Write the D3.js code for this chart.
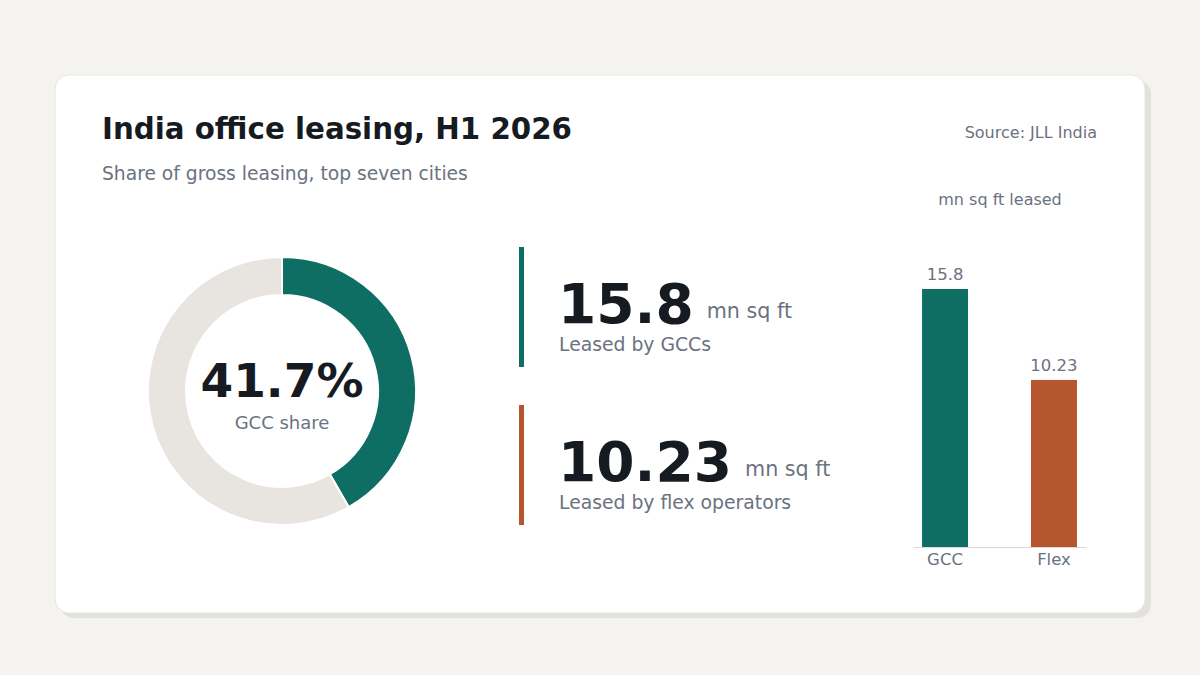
<!DOCTYPE html>
<html lang="en">
<head>
<meta charset="utf-8">
<title>India office leasing</title>
<script type="text/javascript" src="https://d3js.org/d3.v7.min.js"></script>
<style>
  body { margin: 0; background: #f4f3ef; }
  svg text { font-family: "DejaVu Sans", sans-serif; }
</style>
</head>
<body>
<div id="container"></div>
<script type="text/javascript">
// data
var categories = ["GCC", "Flex"];
var leased = [15.8, 10.23];          // mn sq ft
var gccShare = 41.7;                 // percent
var statLabels = ["Leased by GCCs", "Leased by flex operators"];
var colors = ["#0f6e64", "#b5562e"];

var w = 1200, h = 675;
var svg = d3.select("div#container").append("svg")
  .attr("width", w).attr("height", h)
  .style("display", "block");

svg.append("rect").attr("width", w).attr("height", h).attr("fill", "#f4f3ef");

// card + shadow
svg.append("rect").attr("x", 60).attr("y", 80).attr("width", 1091).attr("height", 538)
  .attr("rx", 14).attr("fill", "#e3e1dc");
svg.append("rect").attr("x", 55).attr("y", 75).attr("width", 1090).attr("height", 538)
  .attr("rx", 14).attr("fill", "#fff").attr("stroke", "#e8e6e1");

// titles
svg.append("text").attr("x", 102).attr("y", 139).text("India office leasing, H1 2026")
  .attr("font-size", 29.3).attr("font-weight", "bold").attr("fill", "#161b22");
svg.append("text").attr("x", 102).attr("y", 180).text("Share of gross leasing, top seven cities")
  .attr("font-size", 18.7).attr("fill", "#6b7280");
svg.append("text").attr("x", 1097).attr("y", 138).attr("text-anchor", "end").text("Source: JLL India")
  .attr("font-size", 16).attr("fill", "#6b7280");

// donut
var donut = svg.append("g").attr("transform", "translate(282,391)");
var pie = d3.pie().sort(null).value(d => d);
var arc = d3.arc().innerRadius(96).outerRadius(134);
donut.selectAll("path")
  .data(pie([gccShare, 100 - gccShare]))
  .enter().append("path")
  .attr("d", arc)
  .attr("fill", (d, i) => i === 0 ? colors[0] : "#e8e4df")
  .attr("stroke", "#fff").attr("stroke-width", 2);
donut.append("text").attr("y", 6).attr("text-anchor", "middle").text(gccShare + "%")
  .attr("font-size", 47).attr("font-weight", "bold").attr("fill", "#161b22");
donut.append("text").attr("y", 38).attr("text-anchor", "middle").text("GCC share")
  .attr("font-size", 18).attr("fill", "#6b7280");

// stat blocks
var stats = svg.selectAll("g.stat")
  .data(leased)
  .enter().append("g").attr("class", "stat")
  .attr("transform", (d, i) => "translate(519," + (247 + i * 158) + ")");
stats.append("rect").attr("width", 5).attr("height", 120).attr("fill", (d, i) => colors[i]);
stats.append("text").attr("x", 39).attr("y", 76).text(d => d)
  .attr("font-size", 55).attr("font-weight", "bold").attr("fill", "#161b22");
stats.each(function(d, i) {
  var g = d3.select(this);
  var bw = g.select("text").node().getComputedTextLength();
  g.append("text").attr("x", 39 + bw + 13).attr("y", 71).text("mn sq ft")
    .attr("font-size", 20.7).attr("fill", "#6b7280");
});
stats.append("text").attr("x", 40).attr("y", 104).text((d, i) => statLabels[i])
  .attr("font-size", 18.8).attr("fill", "#6b7280");

// bar chart
var baseY = 547;
var x = d3.scaleBand().domain(categories).range([913, 1086]).paddingInner(0.578).paddingOuter(0.083);
var y = d3.scaleLinear().domain([0, 15.8]).range([baseY, 289]);

svg.append("text").attr("x", 1000).attr("y", 205).attr("text-anchor", "middle").text("mn sq ft leased")
  .attr("font-size", 16).attr("fill", "#6b7280");

svg.selectAll("rect.bar")
  .data(leased)
  .enter().append("rect").attr("class", "bar")
  .attr("x", (d, i) => x(categories[i]))
  .attr("y", d => y(d))
  .attr("width", x.bandwidth())
  .attr("height", d => baseY - y(d))
  .attr("fill", (d, i) => colors[i]);

svg.selectAll("text.val")
  .data(leased)
  .enter().append("text").attr("class", "val")
  .attr("x", (d, i) => x(categories[i]) + x.bandwidth() / 2)
  .attr("y", d => y(d) - 9)
  .attr("text-anchor", "middle").text(d => d)
  .attr("font-size", 16.5).attr("fill", "#6b7280");

var axis = svg.append("g").attr("transform", "translate(0," + baseY + ")")
  .call(d3.axisBottom(x).tickSize(0).tickPadding(6));
axis.select(".domain").attr("stroke", "#d9d9d9");
axis.selectAll("text").attr("font-size", 16.5).attr("fill", "#6b7280")
  .attr("font-family", "DejaVu Sans, sans-serif");
</script>
</body>
</html>
